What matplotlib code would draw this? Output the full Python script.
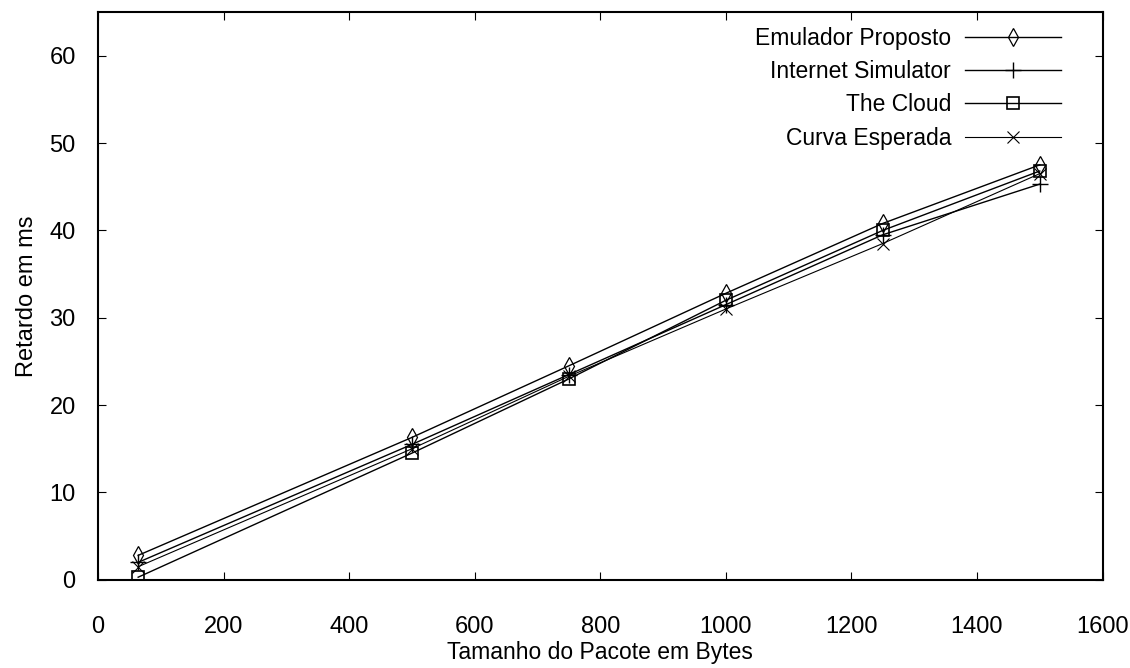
import matplotlib
matplotlib.use("Agg")
import matplotlib.pyplot as plt

plt.rcParams['font.family'] = ['Liberation Sans', 'DejaVu Sans']

x = [64, 500, 750, 1000, 1250, 1500]
emulador = [2.8, 16.3, 24.5, 32.8, 40.8, 47.5]
internet = [2.0, 15.5, 23.5, 31.5, 39.5, 45.3]
cloud = [0.3, 14.5, 23.0, 32.0, 40.0, 46.8]
esperada = [1.5, 15.0, 23.3, 31.0, 38.5, 46.5]
labels = ["Emulador Proposto", "Internet Simulator", "The Cloud", "Curva Esperada"]

fig = plt.figure(figsize=(11.3, 6.68), dpi=100)
ax = fig.add_axes([0.0867, 0.132, 0.889, 0.850])

ax.plot(x, emulador, color='black', lw=1.0, marker='d', ms=9, mfc='none', mew=0.9, label=labels[0])
ax.plot(x, internet, color='black', lw=1.0, marker='+', ms=11, mew=1.0, label=labels[1])
ax.plot(x, cloud, color='black', lw=1.0, marker='s', ms=8, mfc='none', mew=1.2, label=labels[2])
ax.plot(x, esperada, color='black', lw=0.8, marker='x', ms=8, mew=0.8, label=labels[3])

ax.set_xlim(0, 1600)
ax.set_ylim(0, 65)
ax.set_xticks(range(0, 1601, 200))
ax.set_yticks(range(0, 61, 10))
ax.tick_params(direction='in', top=True, right=True, labelsize=17, length=6)
ax.tick_params(axis='x', pad=26)
ax.tick_params(axis='y', pad=16)
for s in ax.spines.values():
    s.set_linewidth(1.5)

ax.set_xlabel("Tamanho do Pacote em Bytes", fontsize=16.5, labelpad=2)
ax.set_ylabel("Retardo em ms", fontsize=17, labelpad=8)

leg = ax.legend(loc='upper right', markerfirst=False, frameon=False, fontsize=16.5,
                handlelength=4.2, handletextpad=0.6, labelspacing=0.45,
                borderaxespad=0.0, bbox_to_anchor=(0.968, 0.99))
for t in leg.get_texts():
    t.set_ha('right')
leg._legend_box.align = 'right'

fig.savefig("out.png", dpi=100)
